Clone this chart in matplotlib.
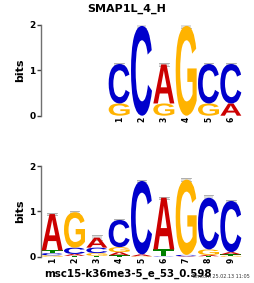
import matplotlib
matplotlib.use("Agg")
import matplotlib.pyplot as plt
from matplotlib.textpath import TextPath
from matplotlib.patches import PathPatch, Rectangle
from matplotlib.font_manager import FontProperties
from matplotlib.transforms import Affine2D

# ---------------- data ----------------
title_top = "SMAP1L_4_H"
xlabel_bottom = "msc15-k36me3-5_e_53_0.598"
stamp = "Tomtom 25.02.13 11:05"
bases = ["A", "C", "G", "T"]

# heights in bits per position: A, C, G, T
top_A = [0.00, 0.00, 0.86, 0.00, 0.00, 0.27]
top_C = [0.87, 1.98, 0.00, 0.00, 0.87, 0.87]
top_G = [0.27, 0.00, 0.27, 1.98, 0.27, 0.00]
top_T = [0.00, 0.00, 0.00, 0.00, 0.00, 0.00]
top_err = [0.025, 0.04, 0.025, 0.04, 0.025, 0.025]
top_labels = ["1", "2", "3", "4", "5", "6"]

bot_A = [0.80, 0.04, 0.22, 0.07, 0.04, 1.14, 0.01, 0.03, 0.05]
bot_C = [0.05, 0.14, 0.12, 0.60, 1.62, 0.01, 0.03, 1.14, 1.13]
bot_G = [0.03, 0.78, 0.06, 0.11, 0.01, 0.00, 1.66, 0.12, 0.02]
bot_T = [0.06, 0.02, 0.02, 0.03, 0.00, 0.15, 0.00, 0.01, 0.03]
bot_err = [0.025, 0.025, 0.05, 0.025, 0.025, 0.025, 0.025, 0.05, 0.025]
bot_labels = ["1", "2", "3", "4", "5", "6", "7", "8", "9"]

colors = {"A": "#CC0000", "C": "#0000CC", "G": "#FFB300", "T": "#008000"}

W, H = 255, 283
fig = plt.figure(figsize=(W / 100, H / 100), dpi=100)

font = FontProperties(family="Liberation Sans", weight="bold")


def draw_letter(ax, ch, x, y, w, h):
    if h <= 0:
        return
    tp = TextPath((0, 0), ch, size=1, prop=font)
    ext = tp.get_extents()
    tr = (Affine2D().translate(-ext.x0, -ext.y0)
          .scale(w / ext.width, h / ext.height)
          .translate(x - w / 2, y))
    p = tr.transform_path(tp)
    ax.add_patch(PathPatch(p, facecolor=colors[ch], edgecolor="none", zorder=3))


def draw_logo(ax, A, C, G, T, err, labels, offset):
    n = len(A)
    for i in range(n):
        x = offset + i + 1
        hs = {"A": A[i], "C": C[i], "G": G[i], "T": T[i]}
        order = sorted(bases, key=lambda b: hs[b])
        y = 0.0
        for b in order:
            draw_letter(ax, b, x, y, 0.94, hs[b])
            y += hs[b]
        e = err[i]
        ax.add_patch(Rectangle((x - 0.22, y - e), 0.44, 2 * e,
                               facecolor="#dcdcdc", edgecolor="none", zorder=1))
        ax.plot([x - 0.22, x + 0.22], [y + e, y + e], color="#a8a8a8", lw=0.6, zorder=2)
        ax.plot([x - 0.22, x + 0.22], [y - e, y - e], color="#a8a8a8", lw=0.6, zorder=2)
    ax.set_xlim(0.5, 9.5)
    ax.set_ylim(0, 2)
    ax.set_xticks([offset + i + 1 for i in range(n)])
    ax.set_xticklabels(labels, rotation=90, fontsize=5.5, fontweight="bold")
    ax.set_yticks([0, 1, 2])
    ax.set_yticklabels(["0", "1", "2"], fontsize=6.5, fontweight="bold")
    for s in ["top", "right", "bottom"]:
        ax.spines[s].set_visible(False)
    ax.spines["left"].set_color("#707070")
    ax.spines["left"].set_linewidth(1.0)
    ax.tick_params(axis="x", length=0, pad=1)
    ax.tick_params(axis="y", length=3, width=1.0, color="#404040", pad=1)
    ax.set_ylabel("bits", fontsize=8, fontweight="bold", labelpad=3)
    ax.patch.set_visible(False)


ax1 = fig.add_axes([41 / W, (H - 115.7) / H, 201 / W, 90.7 / H])
draw_logo(ax1, top_A, top_C, top_G, top_T, top_err, top_labels, 3)
fig.text(127 / W, 1 - 9 / H, title_top, fontsize=8, fontweight="bold",
         ha="center", va="center")

ax2 = fig.add_axes([41 / W, (H - 256.7) / H, 201 / W, 90.7 / H])
draw_logo(ax2, bot_A, bot_C, bot_G, bot_T, bot_err, bot_labels, 0)
fig.text(128 / W, 1 - 274 / H, xlabel_bottom, fontsize=7.4, fontweight="bold",
         ha="center", va="center")

fig.text(250 / W, 1 - 276 / H, stamp, fontsize=3.5, ha="right", va="center", color="#333333")

fig.savefig("out.png", dpi=100)
